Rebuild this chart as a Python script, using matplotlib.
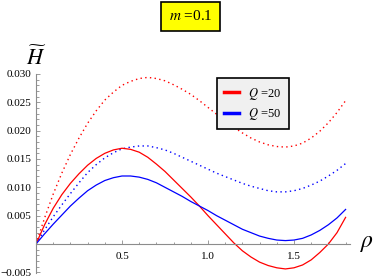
import numpy as np
import matplotlib
matplotlib.use('Agg')
import matplotlib.pyplot as plt
from matplotlib.ticker import FixedLocator, FuncFormatter, MultipleLocator

plt.rcParams['font.family'] = 'Liberation Serif'
plt.rcParams['mathtext.fontset'] = 'stix'

# values, rho step 0.05
rho = [0.0, 0.05, 0.1, 0.15, 0.2, 0.25, 0.3, 0.35, 0.4, 0.45, 0.5, 0.55, 0.6,
       0.65, 0.7, 0.75, 0.8, 0.85, 0.9, 0.95, 1.0, 1.05, 1.1, 1.15, 1.2, 1.25,
       1.3, 1.35, 1.4, 1.45, 1.5, 1.55, 1.6, 1.65, 1.7, 1.75, 1.8]

red_solid = [0.0, 0.0034, 0.0063, 0.0087, 0.0107, 0.0124, 0.0139, 0.0151, 0.0160,
             0.0166, 0.0169, 0.0167, 0.0162, 0.0153, 0.0141, 0.0128, 0.0113, 0.0098,
             0.0083, 0.0067, 0.0050, 0.0034, 0.0018, 0.0002, -0.0012, -0.0023,
             -0.0032, -0.0038, -0.0042, -0.0044, -0.0042, -0.0037, -0.0028,
             -0.0015, 0.0000, 0.0020, 0.0047]
blue_solid = [0.0, 0.0018, 0.0035, 0.0051, 0.0067, 0.0081, 0.0094, 0.0104, 0.0112,
              0.0117, 0.0120, 0.0120, 0.0118, 0.0114, 0.0108, 0.0100, 0.0092, 0.0084,
              0.0075, 0.0067, 0.0059, 0.0050, 0.0042, 0.0034, 0.0026, 0.0020,
              0.0014, 0.0010, 0.0007, 0.0006, 0.0007, 0.0010, 0.0016, 0.0024,
              0.0034, 0.0046, 0.0061]
red_dotted = [0.0, 0.0046, 0.0088, 0.0125, 0.0158, 0.0187, 0.0213, 0.0235, 0.0254,
              0.0268, 0.0280, 0.0287, 0.0292, 0.0294, 0.0292, 0.0288, 0.0281, 0.0273,
              0.0264, 0.0253, 0.0241, 0.0229, 0.0217, 0.0206, 0.0196, 0.0187,
              0.0180, 0.0175, 0.0172, 0.0171, 0.0173, 0.0178, 0.0187, 0.0199,
              0.0214, 0.0232, 0.0253]
blue_dotted = [0.0, 0.0025, 0.0048, 0.0069, 0.0089, 0.0108, 0.0126, 0.0140, 0.0152,
               0.0161, 0.0168, 0.0171, 0.0173, 0.0173, 0.0170, 0.0166, 0.0160, 0.0153,
               0.0146, 0.0139, 0.0132, 0.0125, 0.0119, 0.0113, 0.0107, 0.0102,
               0.0098, 0.0094, 0.0092, 0.0092, 0.0094, 0.0098, 0.0104, 0.0111,
               0.0120, 0.0130, 0.0142]

W, H = 374, 279
fig = plt.figure(figsize=(W / 100, H / 100), dpi=100)

# axes box in pixels: origin (36, 244), x 172 px/unit, y 5667 px/unit
x0, x1 = 36, 350
ytop, ybot = 73, 273
ax = fig.add_axes([x0 / W, (H - ybot) / H, (x1 - x0) / W, (ybot - ytop) / H])
ax.set_xlim(0, (x1 - x0) / 172.0)
ax.set_ylim(-(ybot - 244) / 5667.0, (244 - ytop) / 5667.0)

dot = (0, (1, 2.4))
ax.plot(rho, red_dotted, color='red', lw=1.0, ls=dot)
ax.plot(rho, blue_dotted, color='blue', lw=1.0, ls=dot)
ax.plot(rho, red_solid, color='red', lw=0.9, label=r'$Q$ =20')
ax.plot(rho, blue_solid, color='blue', lw=0.9, label=r'$Q$ =50')

for s in ['top', 'right']:
    ax.spines[s].set_visible(False)
ax.spines['bottom'].set_position(('data', 0))
for s in ['left', 'bottom']:
    ax.spines[s].set_color('#8c8c8c')
    ax.spines[s].set_linewidth(0.8)
ax.spines['left'].set_bounds(-(ybot - 244) / 5667.0, 0.030)

ax.xaxis.set_major_locator(FixedLocator([0.5, 1.0, 1.5]))
ax.xaxis.set_minor_locator(MultipleLocator(0.1))
ax.xaxis.set_major_formatter(FuncFormatter(lambda v, p: '%.1f' % v))
ax.yaxis.set_major_locator(FixedLocator([-0.005, 0.005, 0.010, 0.015, 0.020, 0.025, 0.030]))
ax.yaxis.set_minor_locator(MultipleLocator(0.001))
ax.yaxis.set_major_formatter(FuncFormatter(lambda v, p: ('%.3f' % v).replace('-', '\u2212')))

ax.tick_params(which='both', direction='in', colors='#8c8c8c', labelcolor='black',
               labelsize=8, width=0.6)
ax.tick_params(which='major', length=3.2)
ax.tick_params(which='minor', length=1.8)
ax.tick_params(axis='x', pad=5.5)
ax.tick_params(axis='y', pad=3)
ax.patch.set_alpha(0)

leg = ax.legend(loc='upper left', bbox_to_anchor=(216.7 / W, (H - 78) / H),
                bbox_transform=fig.transFigure, fontsize=9, fancybox=False,
                edgecolor='black', facecolor='#f0f0f0', framealpha=1,
                borderpad=0.6, labelspacing=0.35, handlelength=1.2,
                handletextpad=0.7, borderaxespad=0)
leg.get_frame().set_linewidth(1.2)
for ln in leg.get_lines():
    ln.set_linewidth(2.5)

fig.text(35.8 / W, 1 - 65 / H, r'$\widetilde{H}$', fontsize=16, ha='center', va='baseline')
fig.text(367.5 / W, 1 - 247 / H, r'$\rho$', fontsize=17, ha='center', va='baseline')
fig.text(190.5 / W, 1 - 16.5 / H, r'$m$ =0.1', fontsize=11, ha='center', va='center',
         bbox=dict(boxstyle='square,pad=0.5', facecolor='#ffff00', edgecolor='black', lw=1.2))

fig.savefig('out.png', dpi=100)
